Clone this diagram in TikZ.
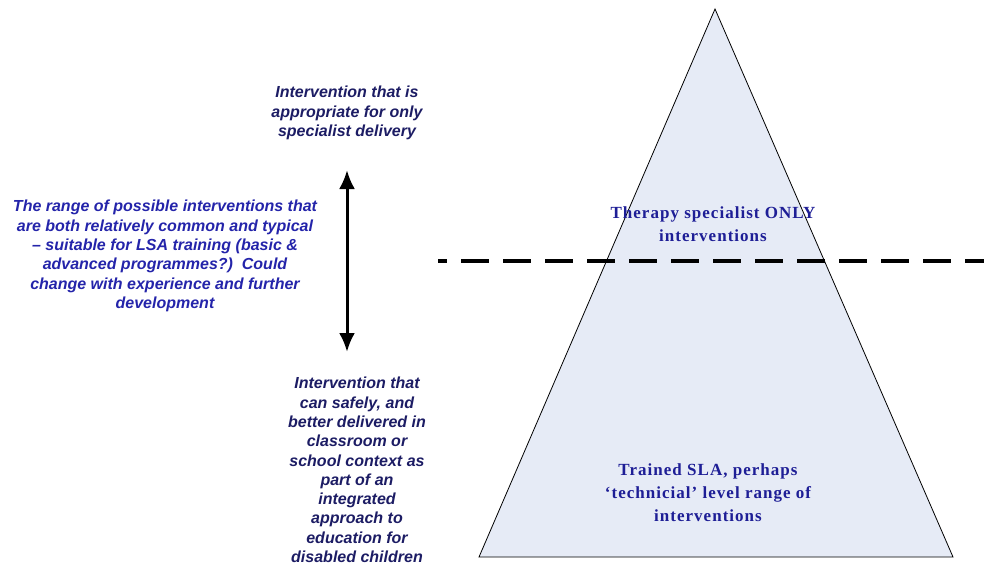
\documentclass[tikz,border=0pt]{standalone}
\usepackage{fontspec}
\setmainfont{Liberation Serif}
\setsansfont{Liberation Sans}
\newfontfamily\pyrfont[LetterSpace=6]{Liberation Serif}
\usepackage{xcolor}
\usepackage{tikz}
\usetikzlibrary{arrows.meta}
\usetikzlibrary{positioning}
\definecolor{navy}{RGB}{28,28,100}
\definecolor{ltblue}{RGB}{36,36,170}
\definecolor{pyrblue}{RGB}{30,30,150}
\definecolor{pyrfill}{RGB}{230,235,246}
\tikzset{note/.style={font=\sffamily\bfseries\itshape\fontsize{16}{19.3}\selectfont, align=center, inner sep=0pt}}
\tikzset{level/.style={font=\pyrfont\bfseries\fontsize{17}{23}\selectfont, text=pyrblue, align=center, inner sep=0pt}}
\tikzset{twoway/.style={line width=3pt, {Latex[length=19pt,width=16pt]}-{Latex[length=19pt,width=16pt]}}}
\tikzset{split/.style={line width=3.5pt, dash pattern=on 28pt off 14pt, dash phase=19pt}}

\begin{document}
\begin{tikzpicture}[x=1pt,y=-1pt]
\useasboundingbox (0,0) rectangle (984,568);
% pyramid
\coordinate (apex) at (715,9);
\coordinate (bl) at (479,557);
\coordinate (br) at (953,557);
\draw[fill=pyrfill, line width=0.8pt] (apex) -- (br) -- (bl) -- cycle;
\node[level] (spec) at (713,224) {Therapy specialist ONLY\\interventions};
\node[level] (sla) at (708,493) {Trained SLA, perhaps\\‘technicial’ level range of\\interventions};
% dividing line
\coordinate (dl) at (438,261);
\coordinate (dr) at (984,261);
\draw[split] (dl) -- (dr);
% left notes
\node[note, text=navy] (top) at (347,113) {Intervention that is\\appropriate for only\\specialist delivery};
\node[note, text=ltblue] (mid) at (165,256) {The range of possible interventions that\\are both relatively common and typical\\-- suitable for LSA training (basic \&\\advanced programmes?)\ \ Could\\change with experience and further\\development};
\node[note, text=navy] (bot) at (357,470) {Intervention that\\can safely, and\\better delivered in\\classroom or\\school context as\\part of an\\integrated\\approach to\\education for\\disabled children};
\coordinate (up) at (347,170);
\coordinate (down) at (347,352);
\draw[twoway] (down) -- (up);
\end{tikzpicture}
\end{document}
